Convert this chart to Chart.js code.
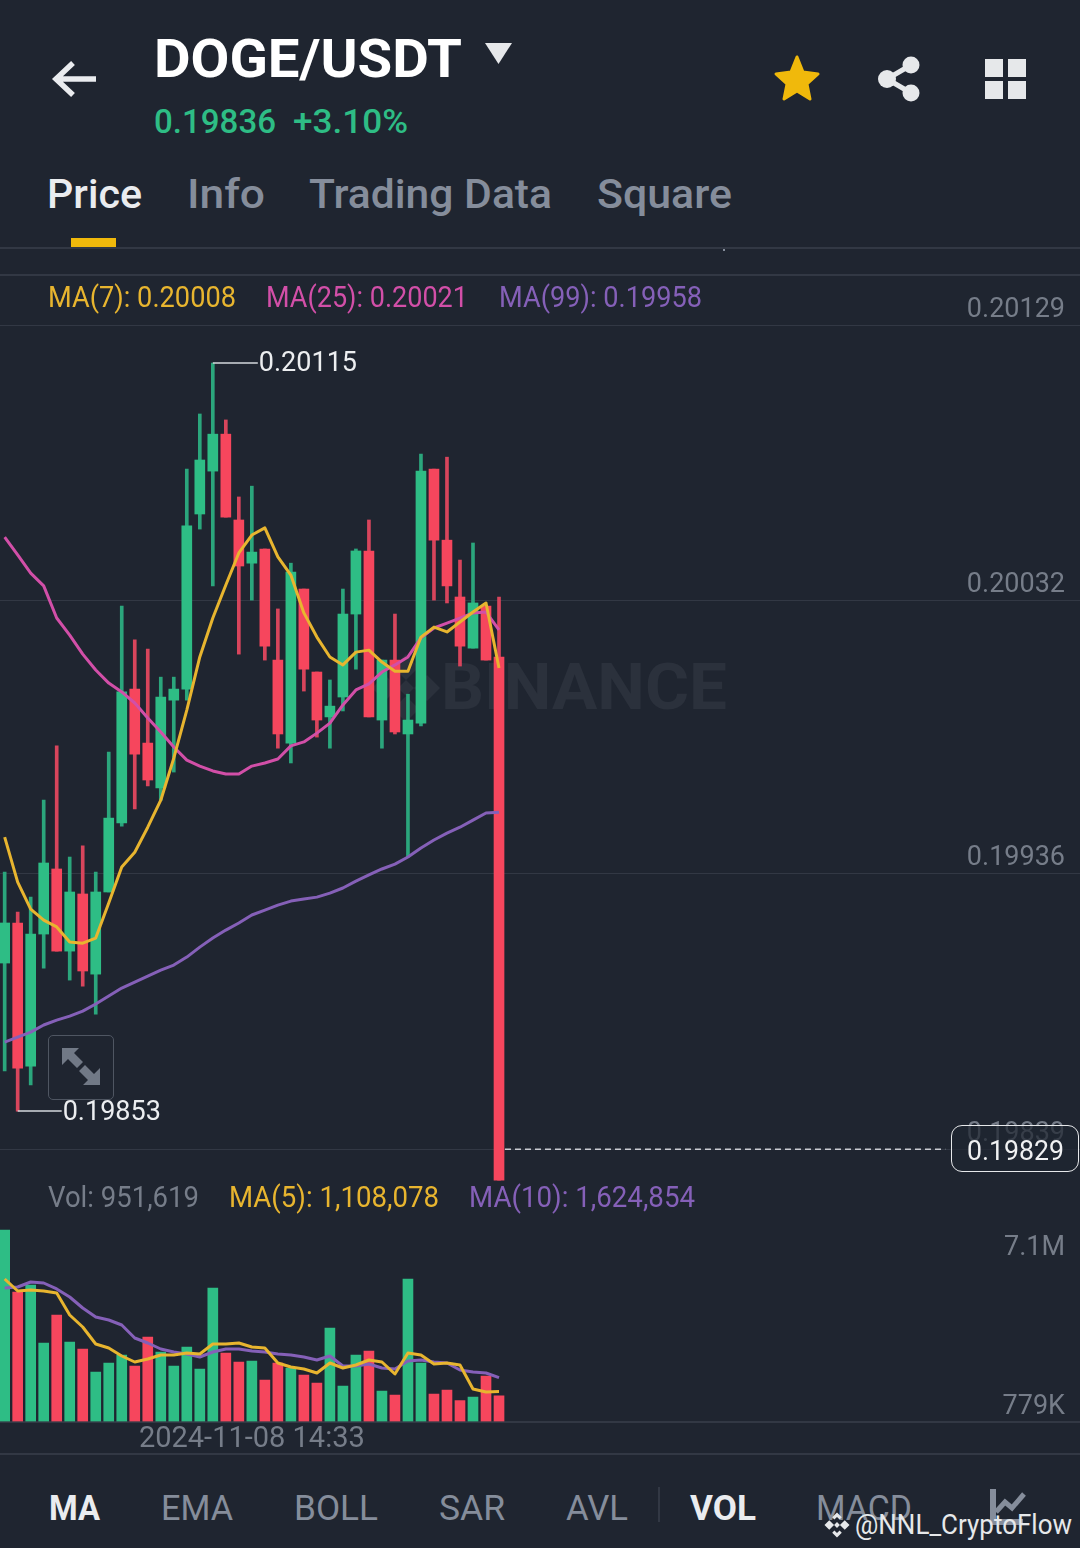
<!DOCTYPE html>
<html lang="en">
  <head>
    <meta charset="UTF-8" />
    <script src="https://cdn.jsdelivr.net/npm/chart.js"></script>
    <title>DOGE/USDT</title>
    <style>
      html, body { margin: 0; padding: 0; background: #1f2530; }
      #page { position: relative; width: 1080px; height: 1548px; overflow: hidden; background: #1f2530; font-family: Roboto, sans-serif; }
      .t { position: absolute; white-space: nowrap; line-height: 1; transform-origin: left center; transform: translateY(-50%); }
      .hr { position: absolute; left: 0; width: 1080px; background: #323844; }
      canvas { position: absolute; left: 0; display: block; }
      svg { position: absolute; }
      .grey { color: #858d9b; }
      #priceChart { top: 275px; }
      #volChart { top: 1185px; }
      #lastBox { position: absolute; left: 951px; top: 1125px; width: 126px; height: 45px; border: 1.5px solid #e6e8ea; border-radius: 11px; background: rgba(31, 37, 48, 0.72); }
      #expandBox { position: absolute; left: 48px; top: 1035px; width: 64px; height: 63px; border: 1.5px solid #4f5662; border-radius: 5px; }
    </style>
  </head>
  <body>
    <div id="page">
      <!-- watermark sits behind the charts -->
      <svg style="left:368px;top:650px" width="76" height="76" viewBox="0 0 76 76">
        <path fill="#2b313c" d="M38 4l13 13-13 13-13-13zM17 25l13 13-13 13L4 38zM59 25l13 13-13 13-13-13zM38 46l13 13-13 13-13-13zM38 30l8 8-8 8-8-8z"/>
      </svg>
      <span class="t" style="left:441px;top:688px;font-size:64px;font-weight:700;color:#2b313c" data-w="286">BINANCE</span>

      <canvas id="priceChart" width="1080" height="910"></canvas>
      <canvas id="volChart" width="1080" height="270"></canvas>

      <svg style="left:50px;top:58px" width="50" height="42" viewBox="0 0 50 42">
        <path d="M46 21H8M23 5L6 21l17 16" fill="none" stroke="#eaecef" stroke-width="5.5"/>
      </svg>
      <span class="t" style="left:153.500px;top:59px;font-size:53px;font-weight:700;color:#fff" data-w="308">DOGE/USDT</span>
      <svg style="left:484px;top:42px" width="30" height="24" viewBox="0 0 30 24">
        <path d="M1 1h27L14.500 22z" fill="#e6e8ea"/>
      </svg>
      <span class="t" style="left:154px;top:121px;font-size:33px;font-weight:500;color:#2ebd85" data-w="122">0.19836</span>
      <span class="t" style="left:293px;top:121px;font-size:33px;font-weight:500;color:#2ebd85" data-w="115">+3.10%</span>
      <svg style="left:773px;top:54px" width="48" height="48" viewBox="0 0 48 48">
        <path d="M24 3l6 15 15 2-11 10 3 15-13-8-13 8 3-15L3 20l15-2z" fill="#f0b90b" stroke="#f0b90b" stroke-width="3" stroke-linejoin="round"/>
      </svg>
      <svg style="left:875px;top:54px" width="48" height="50" viewBox="0 0 48 50">
        <path d="M36 11L12 25l24 14" fill="none" stroke="#e6e8ea" stroke-width="5"/>
        <circle cx="36" cy="11" r="8.500" fill="#e6e8ea"/><circle cx="12" cy="25" r="9" fill="#e6e8ea"/><circle cx="36" cy="39" r="8.500" fill="#e6e8ea"/>
      </svg>
      <svg style="left:985px;top:59px" width="42" height="41" viewBox="0 0 42 41">
        <rect x="0" y="0" width="18" height="18" fill="#e6e8ea"/><rect x="23" y="0" width="18" height="18" fill="#e6e8ea"/>
        <rect x="0" y="22" width="18" height="18" fill="#e6e8ea"/><rect x="23" y="22" width="18" height="18" fill="#e6e8ea"/>
      </svg>

      <span class="t" style="left:47px;top:194px;font-size:41px;font-weight:500;color:#eaecef" data-w="95">Price</span>
      <span class="t grey" style="left:187px;top:194px;font-size:41px;font-weight:500" data-w="78">Info</span>
      <span class="t grey" style="left:309px;top:194px;font-size:41px;font-weight:500" data-w="243">Trading Data</span>
      <span class="t grey" style="left:597px;top:194px;font-size:41px;font-weight:500" data-w="135">Square</span>
      <div style="position:absolute;left:71px;top:238px;width:45px;height:9px;background:#f0b90b"></div>
      <div class="hr" style="top:247px;height:2px"></div>
      <div style="position:absolute;left:723px;top:249px;width:2px;height:2px;background:#858d9b"></div>
      <div class="hr" style="top:274px;height:2px"></div>

      <span class="t" style="left:48px;top:297px;font-size:29px;color:#e8b52f" data-w="188">MA(7): 0.20008</span>
      <span class="t" style="left:266px;top:297px;font-size:29px;color:#d24fa8" data-w="202">MA(25): 0.20021</span>
      <span class="t" style="left:499px;top:297px;font-size:29px;color:#8560b8" data-w="203">MA(99): 0.19958</span>

      <div id="expandBox"></div>
      <svg style="left:60px;top:1047px" width="42" height="40" viewBox="0 0 42 40">
        <path d="M2 1h17l-5 5 9 9-6 6-9-9-6 6zM40 38H23l5-5-9-9 6-6 9 9 6-6z" fill="#717986"/>
      </svg>

      <div id="lastBox"></div>
      <span class="t" style="left:967px;top:1151px;font-size:27px;color:#f0f1f2" data-w="97">0.19829</span>

      <span class="t" style="left:48px;top:1197px;font-size:29px;color:#767d89" data-w="151">Vol: 951,619</span>
      <span class="t" style="left:229px;top:1197px;font-size:29px;color:#e8b52f" data-w="210">MA(5): 1,108,078</span>
      <span class="t" style="left:469px;top:1197px;font-size:29px;color:#8560b8" data-w="226">MA(10): 1,624,854</span>

      <div class="hr" style="top:1453px;height:2px"></div>

      <span class="t" style="left:49px;top:1508px;font-size:35px;font-weight:700;color:#eaecef" data-w="51">MA</span>
      <span class="t grey" style="left:161px;top:1508px;font-size:35px" data-w="72">EMA</span>
      <span class="t grey" style="left:294px;top:1508px;font-size:35px" data-w="84">BOLL</span>
      <span class="t grey" style="left:439px;top:1508px;font-size:35px" data-w="66">SAR</span>
      <span class="t grey" style="left:566px;top:1508px;font-size:35px" data-w="62">AVL</span>
      <div style="position:absolute;left:658px;top:1487px;width:2px;height:35px;background:#323844"></div>
      <span class="t" style="left:690px;top:1508px;font-size:35px;font-weight:700;color:#eaecef" data-w="66">VOL</span>
      <span class="t grey" style="left:816px;top:1508px;font-size:35px" data-w="96">MACD</span>
      <svg style="left:990px;top:1488px" width="36" height="42" viewBox="0 0 36 42">
        <path d="M3 1v33h30" fill="none" stroke="#858d9b" stroke-width="6"/>
        <path d="M6 24l9-10 7 6L34 6" fill="none" stroke="#858d9b" stroke-width="5"/>
      </svg>
      <svg style="left:823px;top:1511px" width="28" height="28" viewBox="0 0 76 76">
        <path fill="#e6e8ea" d="M38 4l13 13-6 6-7-7-7 7-6-6zM17 25l13 13-13 13L4 38zM59 25l13 13-13 13-13-13zM38 60l7-7 6 6-13 13-13-13 6-6zM38 30l8 8-8 8-8-8z"/>
      </svg>
      <span class="t" style="left:855px;top:1525px;font-size:27px;color:#e6e8ea" data-w="217">@NNL_CryptoFlow</span>
    </div>
    <script>
      // candles
      const opens = [0.199045, 0.199186, 0.198682, 0.199147, 0.199376, 0.199087, 0.199288, 0.199006, 0.199295, 0.199538, 0.200009, 0.199819, 0.199661, 0.199970, 0.200009, 0.200625, 0.200776, 0.200906, 0.200604, 0.200452, 0.200502, 0.200111, 0.199819, 0.200361, 0.200069, 0.199911, 0.199981, 0.200273, 0.200495, 0.199900, 0.200111, 0.199851, 0.199889, 0.200783, 0.200533, 0.200333, 0.200153, 0.200301, 0.200122];
      const closes = [0.199186, 0.198675, 0.199147, 0.199397, 0.199087, 0.199295, 0.199017, 0.199295, 0.199555, 0.199999, 0.199780, 0.199689, 0.199981, 0.200009, 0.200583, 0.200815, 0.200906, 0.200614, 0.200442, 0.200491, 0.200160, 0.199851, 0.200421, 0.200079, 0.199900, 0.199949, 0.200273, 0.200495, 0.199911, 0.200111, 0.199858, 0.199900, 0.200776, 0.200533, 0.200372, 0.200160, 0.200312, 0.200111, 0.198281];
      const highs = [0.199365, 0.199224, 0.199277, 0.199618, 0.199809, 0.199418, 0.199457, 0.199365, 0.199787, 0.200301, 0.200182, 0.200150, 0.200051, 0.200051, 0.200783, 0.200977, 0.201156, 0.200956, 0.200685, 0.200723, 0.200502, 0.200291, 0.200452, 0.200361, 0.200069, 0.200041, 0.200361, 0.200502, 0.200604, 0.200111, 0.200273, 0.199991, 0.200836, 0.200783, 0.200825, 0.200463, 0.200523, 0.200301, 0.200333];
      const lows = [0.198665, 0.198524, 0.198616, 0.199027, 0.199087, 0.198985, 0.198964, 0.198865, 0.199295, 0.199527, 0.199587, 0.199668, 0.199618, 0.199717, 0.199970, 0.200572, 0.200372, 0.200614, 0.200132, 0.200322, 0.200111, 0.199801, 0.199749, 0.200002, 0.199840, 0.199801, 0.199932, 0.200079, 0.199911, 0.199801, 0.199851, 0.199418, 0.199879, 0.200322, 0.200312, 0.200090, 0.200153, 0.200111, 0.198281];

      // moving averages
      const ma7 = [0.199488, 0.199330, 0.199235, 0.199196, 0.199172, 0.199119, 0.199115, 0.199133, 0.199256, 0.199383, 0.199435, 0.199523, 0.199618, 0.199766, 0.199935, 0.200122, 0.200259, 0.200375, 0.200488, 0.200551, 0.200576, 0.200474, 0.200410, 0.200277, 0.200192, 0.200122, 0.200094, 0.200139, 0.200146, 0.200104, 0.200072, 0.200072, 0.200192, 0.200227, 0.200210, 0.200245, 0.200280, 0.200312, 0.200083];
      const ma25 = [0.200544, 0.200481, 0.200417, 0.200372, 0.200259, 0.200199, 0.200132, 0.200076, 0.200030, 0.199999, 0.199960, 0.199907, 0.199858, 0.199805, 0.199759, 0.199738, 0.199721, 0.199710, 0.199710, 0.199738, 0.199749, 0.199763, 0.199809, 0.199823, 0.199854, 0.199889, 0.199953, 0.200006, 0.200027, 0.200069, 0.200094, 0.200122, 0.200189, 0.200224, 0.200241, 0.200259, 0.200277, 0.200280, 0.200217];
      const ma99 = [0.198767, 0.198784, 0.198802, 0.198827, 0.198844, 0.198858, 0.198876, 0.198901, 0.198929, 0.198957, 0.198978, 0.198999, 0.199020, 0.199038, 0.199066, 0.199101, 0.199133, 0.199161, 0.199186, 0.199214, 0.199231, 0.199249, 0.199263, 0.199270, 0.199277, 0.199291, 0.199309, 0.199333, 0.199355, 0.199376, 0.199393, 0.199418, 0.199450, 0.199478, 0.199502, 0.199523, 0.199548, 0.199573, 0.199576];

      // volume, in thousands
      const volumes = [7100, 4801, 5061, 2910, 3949, 2948, 2688, 1835, 2169, 2466, 2058, 3133, 2577, 2058, 2762, 1946, 4950, 2540, 2206, 2243, 1539, 2169, 1984, 1724, 1427, 3467, 1316, 2466, 2614, 1131, 983, 5283, 2169, 1020, 1168, 779, 908, 1687, 951.619];
      const volMa5 = [5283, 4838, 4875, 4838, 4764, 3949, 3504, 2873, 2725, 2428, 2206, 2317, 2466, 2466, 2540, 2503, 2873, 2873, 2910, 2762, 2725, 2169, 2021, 1946, 1798, 2169, 1984, 2095, 2280, 2206, 1761, 2540, 2466, 2132, 2169, 2095, 1205, 1094, 1108.078];
      const volMa10 = [4950, 4987, 5172, 5135, 4913, 4616, 4208, 3874, 3763, 3578, 3096, 2910, 2688, 2577, 2503, 2391, 2577, 2688, 2688, 2614, 2577, 2503, 2466, 2391, 2280, 2428, 2058, 2058, 2132, 1984, 1946, 2243, 2280, 2206, 2169, 1909, 1835, 1798, 1624.854];

      // axes
      const priceTicks = [0.20129, 0.20032, 0.19936, 0.19839];
      const priceMin = 0.198264;
      const priceMax = 0.201466;
      const volTicks = [7100, 779];
      const volTickLabels = ['7.1M', '779K'];
      const volMax = 8768;
      const timeTickIndex = 19;
      const timeTickLabel = '2024-11-08 14:33';
      const xMin = -0.359;
      const xMax = 82.66;

      // current price dashes, and where the high and low markers point
      const lastLineIndexes = [38.46, 72.3];
      const lastLinePrice = 0.19839;
      const highIndex = 16;
      const lowIndex = 1;
      const highLabel = '0.20115';
      const lowLabel = '0.19853';

      const GREEN = '#2ebd85';
      const RED = '#f6465d';
      const WICK_GREEN = '#2ba67c';
      const WICK_RED = '#d8455c';
      const YELLOW = '#e8b52f';
      const PINK = '#d24fa8';
      const PURPLE = '#8560b8';
      const GRID = '#323844';
      const AXIS_TEXT = '#767d89';
      const FONT = 'Roboto, sans-serif';

      const isUp = i => closes[i] >= opens[i];
      const points = arr => arr.map((y, x) => ({ x, y }));

      function lineSet(data, color, width) {
        return { type: 'line', data: points(data), borderColor: color, borderWidth: width, pointRadius: 0, tension: 0, order: 1, borderJoinStyle: 'round' };
      }

      // the little "high" and "low" leader lines with their numbers
      const extremesPlugin = {
        id: 'extremes',
        afterDatasetsDraw(chart) {
          const { ctx, scales } = chart;
          const marks = [
            [highIndex, highs[highIndex], highLabel, 45, 1],
            [lowIndex, lows[lowIndex], lowLabel, 44, 2]
          ];
          ctx.save();
          ctx.font = `27px ${FONT}`;
          ctx.textBaseline = 'middle';
          marks.forEach(([i, v, label, len, dy]) => {
            const x = scales.x.getPixelForValue(i);
            const y = scales.y.getPixelForValue(v);
            ctx.strokeStyle = '#d5d8dc';
            ctx.lineWidth = 1.5;
            ctx.beginPath();
            ctx.moveTo(x, y);
            ctx.lineTo(x + len, y);
            ctx.stroke();
            ctx.fillStyle = '#eceef0';
            ctx.fillText(label, x + len + 1, y + dy);
          });
          ctx.restore();
        }
      };

      // volume labels sit at different offsets from their values
      const volLabelsPlugin = {
        id: 'volLabels',
        afterDraw(chart) {
          const { ctx, scales } = chart;
          ctx.save();
          ctx.font = `27px ${FONT}`;
          ctx.fillStyle = AXIS_TEXT;
          ctx.textAlign = 'right';
          ctx.textBaseline = 'middle';
          volTicks.forEach((v, i) => {
            const y = scales.y.getPixelForValue(v);
            ctx.fillText(volTickLabels[i], 1065, y + (i === 0 ? 18 : 7));
          });
          ctx.restore();
        }
      };

      new Chart(document.getElementById('priceChart'), {
        type: 'bar',
        data: {
          datasets: [
            lineSet(ma7, YELLOW, 3),
            lineSet(ma25, PINK, 3),
            lineSet(ma99, PURPLE, 3),
            {
              type: 'line',
              data: lastLineIndexes.map(x => ({ x, y: lastLinePrice })),
              borderColor: '#c9ccd1',
              borderWidth: 1.5,
              borderDash: [6, 4],
              pointRadius: 0,
              order: 1
            },
            {
              data: opens.map((o, i) => ({ x: i, y: [o, closes[i]] })),
              backgroundColor: opens.map((o, i) => (isUp(i) ? GREEN : RED)),
              barThickness: 10,
              grouped: false,
              order: 2
            },
            {
              data: highs.map((h, i) => ({ x: i, y: [lows[i], h] })),
              backgroundColor: highs.map((h, i) => (isUp(i) ? WICK_GREEN : WICK_RED)),
              barThickness: 3,
              grouped: false,
              order: 3
            }
          ]
        },
        options: {
          responsive: false,
          animation: false,
          devicePixelRatio: 1,
          layout: { padding: 0 },
          plugins: { legend: { display: false }, tooltip: { enabled: false } },
          scales: {
            x: {
              type: 'linear',
              offset: false,
              min: xMin,
              max: xMax,
              afterBuildTicks: s => { s.ticks = [{ value: timeTickIndex }]; },
              afterFit: s => { s.height = 0; s.paddingLeft = 0; s.paddingRight = 0; },
              ticks: { display: false },
              border: { display: false },
              grid: { color: GRID, drawTicks: false }
            },
            y: {
              position: 'right',
              min: priceMin,
              max: priceMax,
              afterBuildTicks: s => { s.ticks = priceTicks.map(value => ({ value })); },
              afterFit: s => { s.width = 0; s.paddingTop = 0; s.paddingBottom = 0; },
              ticks: {
                mirror: true,
                padding: -15,
                labelOffset: -15,
                color: AXIS_TEXT,
                font: { family: FONT, size: 27 },
                callback: v => v.toFixed(5)
              },
              border: { display: false },
              grid: { color: GRID, drawTicks: false }
            }
          }
        },
        plugins: [extremesPlugin]
      });

      new Chart(document.getElementById('volChart'), {
        type: 'bar',
        data: {
          datasets: [
            lineSet(volMa5, YELLOW, 3),
            lineSet(volMa10, PURPLE, 3),
            {
              data: points(volumes),
              backgroundColor: volumes.map((v, i) => (isUp(i) ? GREEN : RED)),
              barThickness: 10,
              order: 2
            }
          ]
        },
        options: {
          responsive: false,
          animation: false,
          devicePixelRatio: 1,
          layout: { padding: 0 },
          plugins: { legend: { display: false }, tooltip: { enabled: false } },
          scales: {
            x: {
              type: 'linear',
              offset: false,
              min: xMin,
              max: xMax,
              afterBuildTicks: s => { s.ticks = [{ value: timeTickIndex }]; },
              afterFit: s => { s.height = 33.5; s.paddingLeft = 0; s.paddingRight = 0; },
              ticks: {
                padding: 1,
                maxRotation: 0,
                autoSkip: false,
                color: AXIS_TEXT,
                font: { family: FONT, size: 29 },
                callback: () => timeTickLabel
              },
              border: { display: true, color: GRID, width: 2 },
              grid: { color: GRID, drawTicks: false }
            },
            y: {
              display: false,
              min: 0,
              max: volMax
            }
          }
        },
        plugins: [volLabelsPlugin]
      });

      // squeeze each text to the width it has in the screenshot
      document.querySelectorAll('.t[data-w]').forEach(el => {
        const k = Number(el.dataset.w) / el.getBoundingClientRect().width;
        el.style.transform = `translateY(-50%) scaleX(${k})`;
      });
    </script>
  </body>
</html>
